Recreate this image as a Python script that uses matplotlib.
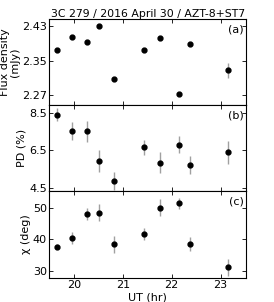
import matplotlib
matplotlib.use("Agg")
import matplotlib.pyplot as plt

# UT hours of each observation
ut = [19.66, 19.97, 20.26, 20.51, 20.82, 21.43, 21.76, 22.16, 22.38, 23.16]

flux = [2.375, 2.404, 2.393, 2.430, 2.309, 2.375, 2.402, 2.274, 2.388, 2.328]
flux_err = [0.004, 0.004, 0.004, 0.003, 0.004, 0.004, 0.004, 0.005, 0.004, 0.017]

pd = [8.41, 7.53, 7.51, 5.92, 4.86, 6.66, 5.84, 6.81, 5.71, 6.39]
pd_err = [0.35, 0.48, 0.55, 0.58, 0.46, 0.41, 0.56, 0.46, 0.46, 0.62]

chi = [37.6, 40.3, 47.8, 48.3, 38.3, 41.7, 50.0, 51.3, 38.4, 31.0]
chi_err = [0.8, 1.9, 1.9, 2.7, 2.7, 1.9, 2.6, 1.8, 2.3, 2.7]

plt.rcParams.update({'font.size': 8, 'font.family': 'DejaVu Sans'})

fig, axes = plt.subplots(3, 1, figsize=(2.74, 3.02), dpi=100, sharex=True)
fig.subplots_adjust(left=0.180, right=0.898, top=0.936, bottom=0.081, hspace=0)

panels = [
	(flux, flux_err, "Flux density\n(mJy)", (2.247, 2.446), [2.27, 2.35, 2.43], "(a)"),
	(pd, pd_err, "PD (%)", (4.3, 8.9), [4.5, 6.5, 8.5], "(b)"),
	(chi, chi_err, u"\u03c7 (deg)", (27.8, 55.1), [30, 40, 50], "(c)"),
]

for ax, (y, e, lab, lim, ticks, tag) in zip(axes, panels):
	ax.errorbar(ut, y, yerr=e, fmt='o', color='black', markersize=3.5,
				ecolor='#a0a0a0', elinewidth=1.0, capsize=0)
	ax.set_ylim(lim)
	ax.set_yticks(ticks)
	ax.set_ylabel(lab, labelpad=1.5, linespacing=0.95)
	ax.tick_params(direction='in', top=True, right=True, length=3, width=0.6, pad=1.8)
	for s in ax.spines.values():
		s.set_linewidth(0.8)
	ax.text(0.99, 0.88, tag, transform=ax.transAxes, ha='right', va='center')

axes[0].yaxis.set_major_formatter(matplotlib.ticker.FormatStrFormatter('%.2f'))
axes[2].set_xlim(19.5, 23.52)
axes[2].set_xticks([20, 21, 22, 23])
axes[2].set_xlabel("UT (hr)", labelpad=2)
axes[0].set_title("3C 279 / 2016 April 30 / AZT-8+ST7", fontsize=7.8, pad=2)

plt.savefig("out.png", dpi=100)
